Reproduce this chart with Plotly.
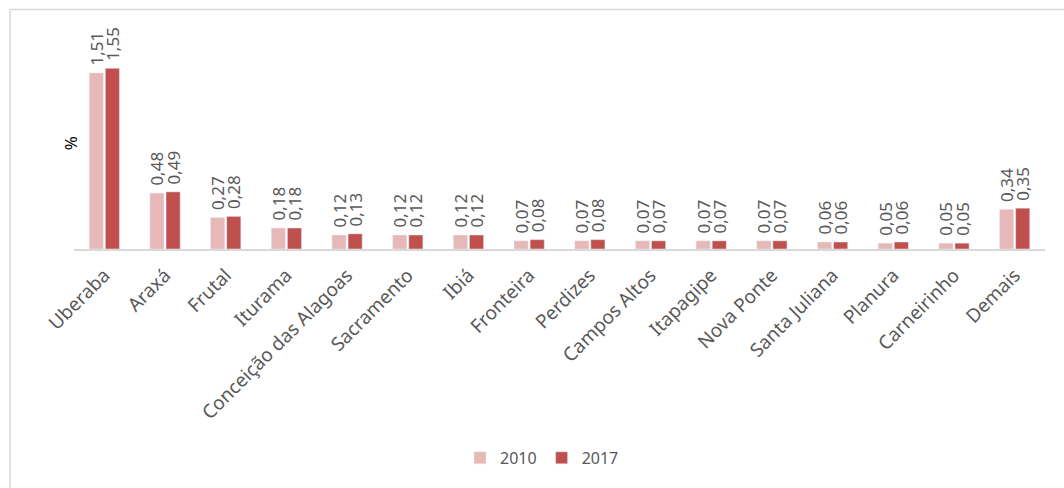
import plotly.graph_objects as go

categories = ["Uberaba", "Araxá", "Frutal", "Iturama", "Conceição das Alagoas", "Sacramento",
              "Ibiá", "Fronteira", "Perdizes", "Campos Altos", "Itapagipe", "Nova Ponte",
              "Santa Juliana", "Planura", "Carneirinho", "Demais"]
values_2010 = [1.51, 0.48, 0.27, 0.18, 0.12, 0.12, 0.12, 0.07, 0.07, 0.07, 0.07, 0.07, 0.06, 0.05, 0.05, 0.34]
values_2017 = [1.55, 0.49, 0.28, 0.18, 0.13, 0.12, 0.12, 0.08, 0.08, 0.07, 0.07, 0.07, 0.06, 0.06, 0.05, 0.35]
series_names = ["2010", "2017"]
colors = ["#E6B8B7", "#C0504D"]

FONT = "Noto Sans"
GRAY = "#595959"

def fmt(v):
    return "\u00a0" + f"{v:.2f}".replace(".", ",")

fig = go.Figure()
for name, vals, col in zip(series_names, [values_2010, values_2017], colors):
    fig.add_trace(go.Bar(
        x=categories, y=vals, name=name, marker_color=col,
        text=[fmt(v) for v in vals], textposition="outside", textangle=-90,
        textfont=dict(family=FONT, size=17, color=GRAY),
        constraintext="none", cliponaxis=False,
    ))

fig.update_layout(
    width=1064, height=488,
    margin=dict(l=74, r=19, t=10, b=239, autoexpand=False),
    paper_bgcolor="white", plot_bgcolor="white",
    barmode="group", bargap=0.47, bargroupgap=0.12,
    font=dict(family=FONT, color=GRAY),
    showlegend=True,
    legend=dict(orientation="h", x=0.482, xanchor="center", y=-0.874, yanchor="middle",
                font=dict(family=FONT, size=16, color=GRAY), itemwidth=30),
    xaxis=dict(showline=True, linecolor="#D9D9D9", linewidth=1.5, ticks="",
               tickangle=-45, tickfont=dict(family=FONT, size=19, color=GRAY),
               ticklabelstandoff=6, showgrid=False),
    yaxis=dict(range=[0, 2.05], visible=False, showgrid=False, zeroline=False),
    annotations=[dict(text="%", x=-0.0175, xref="paper", y=0.44, yref="paper",
                      showarrow=False, textangle=-90,
                      font=dict(family=FONT, size=17, color="#000000"))],
    shapes=[dict(type="rect", xref="paper", yref="paper",
                 x0=(10 - 74) / 971, x1=1.2, y0=-1.2, y1=(249 - 9.5) / 239,
                 line=dict(color="#D9D9D9", width=1.5), layer="below")],
)

fig.write_html("out.html", config={"displayModeBar": False},
               post_script="document.body.style.margin='0';document.body.style.overflow='hidden';")
